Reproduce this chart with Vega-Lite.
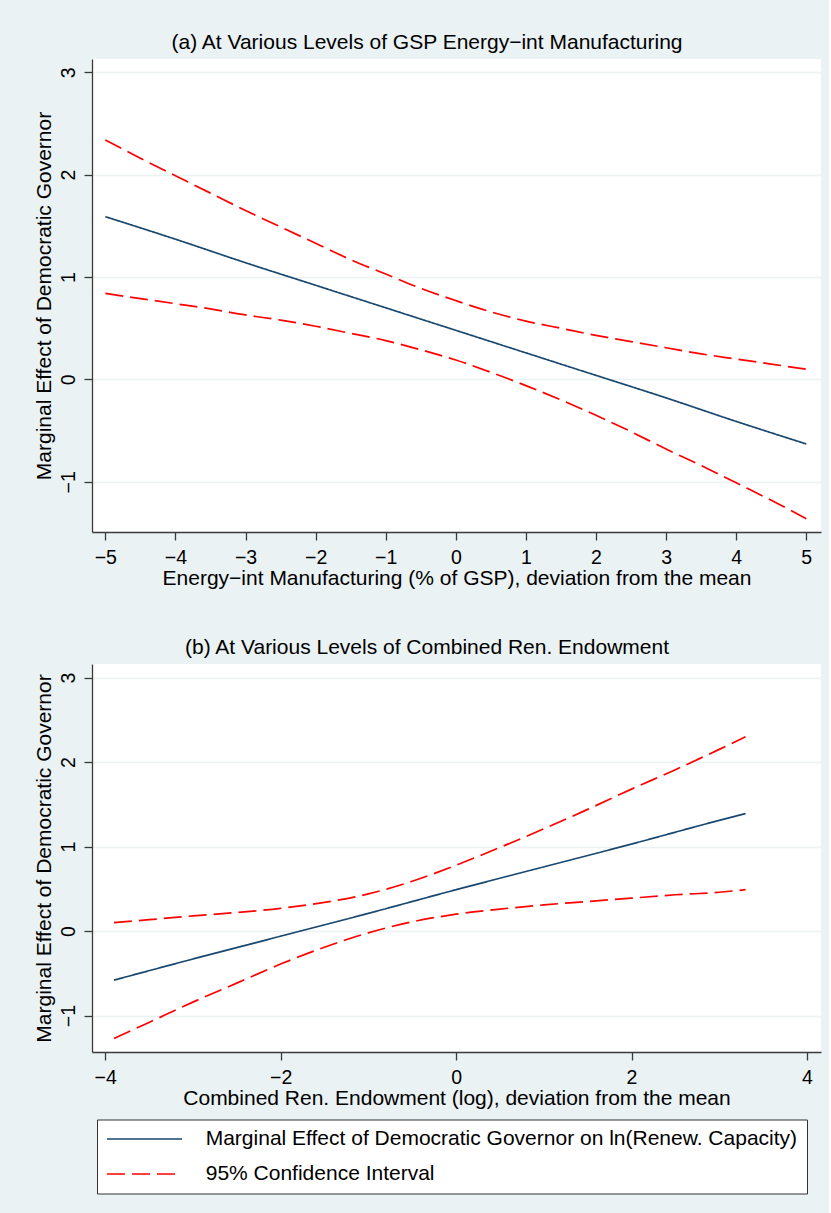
{
  "$schema": "https://vega.github.io/schema/vega-lite/v6.json",
  "background": "#EAF2F3",
  "padding": {"top": 32, "left": 32, "right": 8, "bottom": 20},
  "datasets": {
    "a": [
      {"x": -5, "y": 1.59, "s": "ME", "line": "est"},
      {"x": -4, "y": 1.37, "s": "ME", "line": "est"},
      {"x": -3, "y": 1.14, "s": "ME", "line": "est"},
      {"x": -2, "y": 0.92, "s": "ME", "line": "est"},
      {"x": -1, "y": 0.70, "s": "ME", "line": "est"},
      {"x": 0, "y": 0.48, "s": "ME", "line": "est"},
      {"x": 1, "y": 0.26, "s": "ME", "line": "est"},
      {"x": 2, "y": 0.04, "s": "ME", "line": "est"},
      {"x": 3, "y": -0.18, "s": "ME", "line": "est"},
      {"x": 4, "y": -0.41, "s": "ME", "line": "est"},
      {"x": 5, "y": -0.63, "s": "ME", "line": "est"},
      {"x": -5, "y": 2.34, "s": "CI", "line": "up"},
      {"x": -4.5, "y": 2.16, "s": "CI", "line": "up"},
      {"x": -4, "y": 1.99, "s": "CI", "line": "up"},
      {"x": -3.5, "y": 1.82, "s": "CI", "line": "up"},
      {"x": -3, "y": 1.65, "s": "CI", "line": "up"},
      {"x": -2.5, "y": 1.49, "s": "CI", "line": "up"},
      {"x": -2, "y": 1.33, "s": "CI", "line": "up"},
      {"x": -1.5, "y": 1.17, "s": "CI", "line": "up"},
      {"x": -1, "y": 1.03, "s": "CI", "line": "up"},
      {"x": -0.5, "y": 0.89, "s": "CI", "line": "up"},
      {"x": 0, "y": 0.77, "s": "CI", "line": "up"},
      {"x": 0.5, "y": 0.66, "s": "CI", "line": "up"},
      {"x": 1, "y": 0.57, "s": "CI", "line": "up"},
      {"x": 1.5, "y": 0.50, "s": "CI", "line": "up"},
      {"x": 2, "y": 0.43, "s": "CI", "line": "up"},
      {"x": 2.5, "y": 0.37, "s": "CI", "line": "up"},
      {"x": 3, "y": 0.31, "s": "CI", "line": "up"},
      {"x": 3.5, "y": 0.25, "s": "CI", "line": "up"},
      {"x": 4, "y": 0.20, "s": "CI", "line": "up"},
      {"x": 4.5, "y": 0.15, "s": "CI", "line": "up"},
      {"x": 5, "y": 0.10, "s": "CI", "line": "up"},
      {"x": -5, "y": 0.84, "s": "CI", "line": "lo"},
      {"x": -4.5, "y": 0.79, "s": "CI", "line": "lo"},
      {"x": -4, "y": 0.74, "s": "CI", "line": "lo"},
      {"x": -3.5, "y": 0.69, "s": "CI", "line": "lo"},
      {"x": -3, "y": 0.63, "s": "CI", "line": "lo"},
      {"x": -2.5, "y": 0.58, "s": "CI", "line": "lo"},
      {"x": -2, "y": 0.52, "s": "CI", "line": "lo"},
      {"x": -1.5, "y": 0.45, "s": "CI", "line": "lo"},
      {"x": -1, "y": 0.38, "s": "CI", "line": "lo"},
      {"x": -0.5, "y": 0.29, "s": "CI", "line": "lo"},
      {"x": 0, "y": 0.19, "s": "CI", "line": "lo"},
      {"x": 0.5, "y": 0.07, "s": "CI", "line": "lo"},
      {"x": 1, "y": -0.06, "s": "CI", "line": "lo"},
      {"x": 1.5, "y": -0.20, "s": "CI", "line": "lo"},
      {"x": 2, "y": -0.35, "s": "CI", "line": "lo"},
      {"x": 2.5, "y": -0.51, "s": "CI", "line": "lo"},
      {"x": 3, "y": -0.68, "s": "CI", "line": "lo"},
      {"x": 3.5, "y": -0.84, "s": "CI", "line": "lo"},
      {"x": 4, "y": -1.01, "s": "CI", "line": "lo"},
      {"x": 4.5, "y": -1.18, "s": "CI", "line": "lo"},
      {"x": 5, "y": -1.36, "s": "CI", "line": "lo"}
    ],
    "b": [
      {"x": -3.9, "y": -0.58, "s": "ME", "line": "est"},
      {"x": -3, "y": -0.33, "s": "ME", "line": "est"},
      {"x": -2, "y": -0.06, "s": "ME", "line": "est"},
      {"x": -1, "y": 0.21, "s": "ME", "line": "est"},
      {"x": 0, "y": 0.49, "s": "ME", "line": "est"},
      {"x": 1, "y": 0.76, "s": "ME", "line": "est"},
      {"x": 2, "y": 1.03, "s": "ME", "line": "est"},
      {"x": 3, "y": 1.31, "s": "ME", "line": "est"},
      {"x": 3.3, "y": 1.39, "s": "ME", "line": "est"},
      {"x": -3.9, "y": 0.10, "s": "CI", "line": "up"},
      {"x": -3.5, "y": 0.135, "s": "CI", "line": "up"},
      {"x": -3, "y": 0.18, "s": "CI", "line": "up"},
      {"x": -2.5, "y": 0.22, "s": "CI", "line": "up"},
      {"x": -2, "y": 0.27, "s": "CI", "line": "up"},
      {"x": -1.5, "y": 0.34, "s": "CI", "line": "up"},
      {"x": -1, "y": 0.44, "s": "CI", "line": "up"},
      {"x": -0.5, "y": 0.59, "s": "CI", "line": "up"},
      {"x": 0, "y": 0.78, "s": "CI", "line": "up"},
      {"x": 0.5, "y": 0.99, "s": "CI", "line": "up"},
      {"x": 1, "y": 1.21, "s": "CI", "line": "up"},
      {"x": 1.5, "y": 1.44, "s": "CI", "line": "up"},
      {"x": 2, "y": 1.68, "s": "CI", "line": "up"},
      {"x": 2.5, "y": 1.91, "s": "CI", "line": "up"},
      {"x": 3, "y": 2.15, "s": "CI", "line": "up"},
      {"x": 3.3, "y": 2.30, "s": "CI", "line": "up"},
      {"x": -3.9, "y": -1.27, "s": "CI", "line": "lo"},
      {"x": -3.5, "y": -1.08, "s": "CI", "line": "lo"},
      {"x": -3, "y": -0.84, "s": "CI", "line": "lo"},
      {"x": -2.5, "y": -0.615, "s": "CI", "line": "lo"},
      {"x": -2, "y": -0.39, "s": "CI", "line": "lo"},
      {"x": -1.5, "y": -0.19, "s": "CI", "line": "lo"},
      {"x": -1, "y": -0.02, "s": "CI", "line": "lo"},
      {"x": -0.5, "y": 0.11, "s": "CI", "line": "lo"},
      {"x": 0, "y": 0.20, "s": "CI", "line": "lo"},
      {"x": 0.5, "y": 0.26, "s": "CI", "line": "lo"},
      {"x": 1, "y": 0.31, "s": "CI", "line": "lo"},
      {"x": 1.5, "y": 0.35, "s": "CI", "line": "lo"},
      {"x": 2, "y": 0.39, "s": "CI", "line": "lo"},
      {"x": 2.5, "y": 0.43, "s": "CI", "line": "lo"},
      {"x": 3, "y": 0.46, "s": "CI", "line": "lo"},
      {"x": 3.3, "y": 0.49, "s": "CI", "line": "lo"}
    ]
  },
  "spacing": 48,
  "resolve": {
    "scale": {"x": "independent", "y": "independent", "color": "independent", "strokeDash": "independent"},
    "legend": {"color": "independent", "strokeDash": "independent"}
  },
  "vconcat": [
    {
      "title": "(a) At Various Levels of GSP Energy−int Manufacturing",
      "width": 729,
      "height": 473,
      "data": {"name": "a"},
      "mark": {"type": "line", "strokeWidth": 1.7, "interpolate": "monotone"},
      "encoding": {
        "x": {"field": "x", "type": "quantitative",
              "scale": {"domain": [-5.19, 5.21], "nice": false, "zero": false},
              "axis": {"values": [-5, -4, -3, -2, -1, 0, 1, 2, 3, 4, 5], "title": "Energy−int Manufacturing (% of GSP), deviation from the mean"}},
        "y": {"field": "y", "type": "quantitative",
              "scale": {"domain": [-1.49, 3.13], "nice": false, "zero": false},
              "axis": {"values": [-1, 0, 1, 2, 3], "title": "Marginal Effect of Democratic Governor"}},
        "color": {"field": "s", "type": "nominal", "scale": {"domain": ["ME", "CI"], "range": ["#1A476F", "#FF0000"]}, "legend": null},
        "strokeDash": {"field": "s", "type": "nominal", "scale": {"domain": ["ME", "CI"], "range": [[1, 0], [18, 7]]}, "legend": null},
        "detail": {"field": "line"}
      }
    },
    {
      "title": "(b) At Various Levels of Combined Ren. Endowment",
      "width": 729,
      "height": 388,
      "data": {"name": "b"},
      "mark": {"type": "line", "strokeWidth": 1.7, "interpolate": "monotone"},
      "encoding": {
        "x": {"field": "x", "type": "quantitative",
              "scale": {"domain": [-4.15, 4.16], "nice": false, "zero": false},
              "axis": {"values": [-4, -2, 0, 2, 4], "title": "Combined Ren. Endowment (log), deviation from the mean"}},
        "y": {"field": "y", "type": "quantitative",
              "scale": {"domain": [-1.43, 3.16], "nice": false, "zero": false},
              "axis": {"values": [-1, 0, 1, 2, 3], "title": "Marginal Effect of Democratic Governor"}},
        "color": {"field": "s", "type": "nominal", "scale": {"domain": ["ME", "CI"], "range": ["#1A476F", "#FF0000"]},
                  "legend": {"title": null, "orient": "none", "legendX": 5, "legendY": 455.5, "direction": "vertical",
                             "labelExpr": "datum.value == 'ME' ? 'Marginal Effect of Democratic Governor on ln(Renew. Capacity)' : '95% Confidence Interval'"}},
        "strokeDash": {"field": "s", "type": "nominal", "scale": {"domain": ["ME", "CI"], "range": [[1, 0], [18, 7]]},
                  "legend": {"title": null, "orient": "none", "legendX": 5, "legendY": 455.5, "direction": "vertical",
                             "labelExpr": "datum.value == 'ME' ? 'Marginal Effect of Democratic Governor on ln(Renew. Capacity)' : '95% Confidence Interval'"}},
        "detail": {"field": "line"}
      }
    }
  ],
  "config": {
    "font": "Liberation Sans",
    "view": {"fill": "white", "stroke": null},
    "title": {"font": "Liberation Sans", "fontSize": 21, "fontWeight": "normal", "color": "#000", "anchor": "middle", "frame": "bounds", "baseline": "alphabetic", "offset": 6},
    "axis": {
      "labelFont": "Liberation Sans", "labelFontSize": 19.5, "labelColor": "#000",
      "titleFont": "Liberation Sans", "titleFontSize": 21, "titleFontWeight": "normal", "titleColor": "#000",
      "domainColor": "#3a3a3a", "domainWidth": 1.3, "tickColor": "#3a3a3a", "tickWidth": 1.3, "tickSize": 8,
      "gridColor": "#EAF2F3", "gridWidth": 1.6, "labelOverlap": false, "labelFlush": false
    },
    "axisX": {"grid": false, "labelPadding": 8, "titlePadding": 1},
    "axisY": {"grid": true, "labelAngle": 270, "labelAlign": "center", "labelBaseline": "alphabetic", "labelPadding": 10, "titlePadding": 4},
    "legend": {
      "labelFont": "Liberation Sans", "labelFontSize": 21, "labelColor": "#000", "labelLimit": 900,
      "symbolType": "stroke", "symbolSize": 5625, "symbolStrokeWidth": 1.7, "clipHeight": 21,
      "labelOffset": 22.7, "rowPadding": 13, "padding": 9,
      "strokeColor": "#333", "fillColor": "white", "cornerRadius": 0
    }
  }
}
